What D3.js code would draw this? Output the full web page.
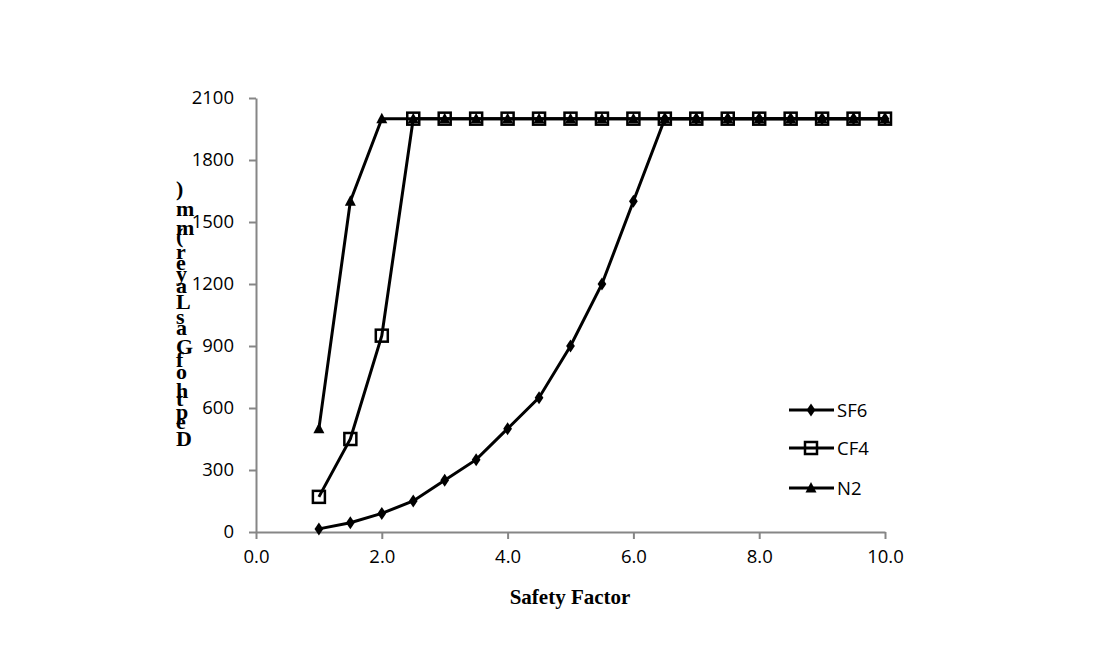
<!DOCTYPE html>
<html lang="en">
<head>
    <meta charset="utf-8">
    <script type="text/javascript" src="https://d3js.org/d3.v7.min.js"></script>
    <style>
        body { margin: 0; background: #fff; }
    </style>
</head>
<body>
    <script type="text/javascript">
        let w = 1099;
        let h = 651;

        // data
        let safetyFactor = [1.0, 1.5, 2.0, 2.5, 3.0, 3.5, 4.0, 4.5, 5.0, 5.5, 6.0, 6.5, 7.0, 7.5, 8.0, 8.5, 9.0, 9.5, 10.0];
        let sf6 = [15, 45, 90, 150, 250, 350, 500, 650, 900, 1200, 1600, 2000, 2000, 2000, 2000, 2000, 2000, 2000, 2000];
        let cf4 = [170, 450, 950, 2000, 2000, 2000, 2000, 2000, 2000, 2000, 2000, 2000, 2000, 2000, 2000, 2000, 2000, 2000, 2000];
        let n2 = [500, 1600, 2000, 2000, 2000, 2000, 2000, 2000, 2000, 2000, 2000, 2000, 2000, 2000, 2000, 2000, 2000, 2000, 2000];
        let seriesNames = ["SF6", "CF4", "N2"];
        let xTicks = [0, 2, 4, 6, 8, 10];
        let yTicks = [0, 300, 600, 900, 1200, 1500, 1800, 2100];
        let xTitle = "Safety Factor";
        let yTitle = "Depth of Gas Layer (mm)";

        let svg = d3.select("body").append("svg")
            .attr("width", w)
            .attr("height", h);

        let x = d3.scaleLinear().domain([0, 10]).range([256, 885]);
        let y = d3.scaleLinear().domain([0, 2100]).range([532, 98]);

        let axisColor = "#868686";
        let tickFont = "'Open Sans', 'Liberation Sans', sans-serif";
        let tickSize = "18.5px";

        // x axis
        let xAxis = svg.append("g")
            .attr("transform", "translate(0," + y(0) + ")")
            .call(d3.axisBottom(x).tickValues(xTicks).tickSize(7).tickSizeOuter(0)
                .tickFormat(d3.format(".1f")));
        // y axis
        let yAxis = svg.append("g")
            .attr("transform", "translate(" + x(0) + ",0)")
            .call(d3.axisLeft(y).tickValues(yTicks).tickSize(7).tickSizeOuter(0)
                .tickFormat(d3.format("d")));

        [xAxis, yAxis].forEach(function(g) {
            g.select(".domain").attr("stroke", axisColor).attr("stroke-width", 2);
            g.selectAll(".tick line").attr("stroke", axisColor).attr("stroke-width", 2);
            g.selectAll(".tick text")
                .attr("fill", "#000")
                .style("font-family", tickFont)
                .style("font-size", tickSize);
        });
        xAxis.selectAll(".tick text").attr("y", 14).attr("dy", "0.9em");
        yAxis.selectAll(".tick text").attr("x", -22);

        // series
        let series = [
            { name: seriesNames[0], values: sf6, marker: "diamond" },
            { name: seriesNames[1], values: cf4, marker: "square" },
            { name: seriesNames[2], values: n2, marker: "triangle" }
        ];

        let line = d3.line()
            .x(function(d) { return x(d[0]); })
            .y(function(d) { return y(d[1]); });

        function drawMarker(g, type, cx, cy) {
            if (type === "diamond") {
                g.append("path")
                    .attr("d", d3.symbol().type(d3.symbolDiamond).size(60)())
                    .attr("transform", "translate(" + cx + "," + cy + ") scale(1.05,0.9)")
                    .attr("fill", "#000");
            } else if (type === "square") {
                g.append("rect")
                    .attr("x", cx - 6).attr("y", cy - 6)
                    .attr("width", 12).attr("height", 12)
                    .attr("fill", "none")
                    .attr("stroke", "#000")
                    .attr("stroke-width", 2.5);
            } else {
                g.append("path")
                    .attr("d", "M0,-6L5.5,4.5L-5.5,4.5Z")
                    .attr("transform", "translate(" + cx + "," + cy + ")")
                    .attr("fill", "#000");
            }
        }

        series.forEach(function(s) {
            let pts = safetyFactor.map(function(v, i) { return [v, s.values[i]]; });
            let g = svg.append("g");
            g.append("path")
                .datum(pts)
                .attr("d", line)
                .attr("fill", "none")
                .attr("stroke", "#000")
                .attr("stroke-width", 3);
            pts.forEach(function(p) {
                drawMarker(g, s.marker, x(p[0]), y(p[1]));
            });
        });

        // legend
        let legendY = [410, 448, 488];
        series.forEach(function(s, i) {
            let g = svg.append("g");
            g.append("line")
                .attr("x1", 789).attr("x2", 834)
                .attr("y1", legendY[i]).attr("y2", legendY[i])
                .attr("stroke", "#000").attr("stroke-width", 3);
            drawMarker(g, s.marker, 811, legendY[i]);
            g.append("text")
                .attr("x", 837).attr("y", legendY[i])
                .attr("dy", "0.36em")
                .style("font-family", tickFont)
                .style("font-size", tickSize)
                .text(s.name);
        });

        // x title
        svg.append("text")
            .attr("x", 570).attr("y", 604)
            .attr("text-anchor", "middle")
            .style("font-family", "'Liberation Serif', 'Times New Roman', serif")
            .style("font-weight", "bold")
            .style("font-size", "21px")
            .text(xTitle);

        // y title: upright glyphs stacked bottom to top
        let yt = svg.append("g")
            .style("font-family", "'Liberation Serif', 'Times New Roman', serif")
            .style("font-weight", "bold")
            .style("font-size", "22px");
        let chars = yTitle.split("");
        let adv = chars.map(function(c) {
            let t = yt.append("text").text(c === " " ? "\u00a0" : c);
            let len = t.node().getComputedTextLength();
            t.remove();
            return len;
        });
        let yBottom = 446, yTop = 196;
        let cum = [0];
        for (let i = 1; i < chars.length; i++) cum.push(cum[i - 1] + adv[i - 1]);
        let k = (yBottom - yTop) / cum[cum.length - 1];
        chars.forEach(function(c, i) {
            if (c === " ") return;
            yt.append("text")
                .attr("x", 176)
                .attr("y", yBottom - cum[i] * k)
                .text(c);
        });
    </script>
</body>
</html>
